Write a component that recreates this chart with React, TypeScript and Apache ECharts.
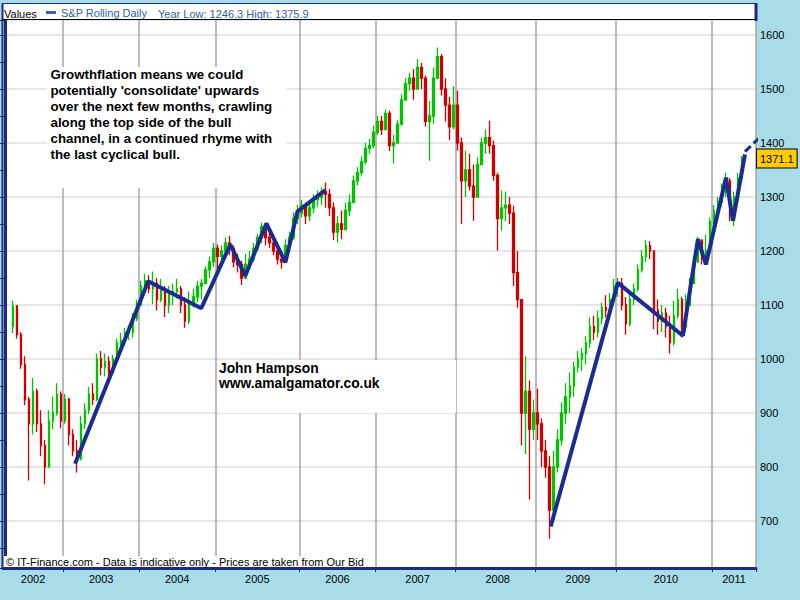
import React, { useEffect, useRef } from 'react';
import * as echarts from 'echarts';

type Bar = [number, number, number, number] | null; // open, close, low, high

const years = ['2002', '2003', '2004', '2005', '2006', '2007', '2008', '2009', '2010', '2011'];

const bars2002: Bar[] = [
  null, null,
  [1060, 1098, 1048, 1108], [1098, 1045, 1038, 1100], [1045, 990, 982, 1050], [990, 925, 915, 1005],
  [925, 880, 775, 930], [880, 940, 860, 965], [940, 880, 865, 945], [880, 840, 820, 905],
  [840, 800, 768, 850], [800, 885, 800, 905], [885, 900, 870, 930], [900, 935, 895, 955],
  [935, 885, 872, 940],
];
const bars2003: Bar[] = [
  [885, 925, 880, 935], [925, 860, 840, 928], [860, 830, 820, 870], [830, 815, 790, 850],
  [815, 880, 812, 895], [880, 905, 870, 918], [905, 935, 898, 948], [935, 925, 915, 955],
  [925, 1000, 922, 1010], [1000, 985, 970, 1015], [985, 995, 968, 1010], [995, 975, 965, 1005],
  [975, 1000, 972, 1008], [1000, 1030, 995, 1038], [1030, 1035, 1012, 1048], [1035, 1048, 1025, 1058],
  [1048, 1050, 1035, 1062], [1050, 1075, 1040, 1085], [1075, 1100, 1070, 1110],
];
const bars2004: Bar[] = [
  [1100, 1135, 1098, 1145], [1135, 1145, 1125, 1158], [1145, 1130, 1122, 1155], [1130, 1140, 1102, 1162],
  [1140, 1110, 1090, 1150], [1110, 1130, 1105, 1148], [1130, 1100, 1078, 1135], [1100, 1120, 1085, 1135],
  [1120, 1125, 1100, 1140], [1125, 1130, 1112, 1148], [1130, 1100, 1085, 1135], [1100, 1070, 1058, 1115],
  [1070, 1105, 1065, 1125], [1105, 1115, 1095, 1130], [1115, 1135, 1105, 1145], [1135, 1140, 1110, 1148],
  [1140, 1165, 1140, 1172], [1165, 1180, 1150, 1190], [1180, 1205, 1170, 1215],
];
const bars2005: Bar[] = [
  [1205, 1190, 1165, 1212], [1190, 1200, 1175, 1210], [1200, 1215, 1190, 1225], [1215, 1205, 1192, 1228],
  [1205, 1180, 1170, 1210], [1180, 1175, 1160, 1195], [1175, 1150, 1137, 1182], [1150, 1175, 1148, 1195],
  [1175, 1185, 1165, 1200], [1185, 1205, 1180, 1215], [1205, 1225, 1200, 1232], [1225, 1245, 1215, 1253],
  [1245, 1225, 1210, 1248], [1225, 1215, 1205, 1238], [1215, 1200, 1192, 1230], [1200, 1185, 1175, 1210],
  [1185, 1180, 1167, 1200], [1180, 1210, 1178, 1222], [1210, 1225, 1200, 1235], [1225, 1260, 1220, 1272],
  [1260, 1270, 1250, 1285],
];
const bars2006: Bar[] = [
  [1270, 1285, 1262, 1295], [1285, 1265, 1250, 1290], [1265, 1280, 1255, 1292], [1280, 1295, 1270, 1305],
  [1295, 1300, 1282, 1312], [1300, 1310, 1285, 1318], [1310, 1305, 1280, 1327], [1305, 1280, 1265, 1315],
  [1280, 1235, 1220, 1290], [1235, 1250, 1216, 1265], [1250, 1240, 1222, 1275], [1240, 1275, 1238, 1290],
  [1275, 1290, 1265, 1305], [1290, 1330, 1290, 1340], [1330, 1345, 1322, 1355], [1345, 1365, 1340, 1375],
  [1365, 1390, 1360, 1400], [1390, 1395, 1380, 1408], [1395, 1420, 1390, 1432],
];
const bars2007: Bar[] = [
  [1420, 1440, 1415, 1450], [1440, 1425, 1415, 1450], [1425, 1455, 1425, 1462], [1455, 1395, 1385, 1460],
  [1395, 1400, 1362, 1415], [1400, 1435, 1400, 1442], [1435, 1480, 1432, 1490], [1480, 1510, 1478, 1520],
  [1510, 1520, 1497, 1530], [1520, 1500, 1480, 1537], [1500, 1540, 1500, 1555], [1540, 1520, 1500, 1548],
  [1520, 1440, 1430, 1525], [1440, 1450, 1367, 1478], [1450, 1520, 1435, 1540], [1520, 1560, 1520, 1577],
  [1560, 1500, 1488, 1565], [1500, 1470, 1440, 1520], [1470, 1430, 1405, 1485], [1430, 1470, 1425, 1505],
];
const bars2008: Bar[] = [
  [1470, 1400, 1386, 1497], [1400, 1330, 1250, 1410], [1330, 1350, 1300, 1386], [1350, 1320, 1312, 1380],
  [1320, 1300, 1256, 1360], [1300, 1360, 1300, 1373], [1360, 1400, 1360, 1410], [1400, 1410, 1380, 1425],
  [1410, 1395, 1380, 1441], [1395, 1340, 1330, 1404], [1340, 1260, 1201, 1345], [1260, 1280, 1238, 1312],
  [1280, 1285, 1255, 1310], [1285, 1270, 1250, 1300], [1270, 1160, 1135, 1284], [1160, 1110, 1095, 1200],
  [1110, 900, 840, 1110], [900, 940, 824, 1005], [940, 870, 740, 960], [870, 900, 850, 925],
];
const bars2009: Bar[] = [
  [900, 880, 850, 945], [880, 830, 800, 890], [830, 800, 780, 850], [800, 720, 667, 820],
  [720, 800, 700, 830], [800, 850, 790, 870], [850, 900, 840, 920], [900, 930, 880, 955],
  [930, 950, 900, 975], [950, 985, 930, 995], [985, 1000, 975, 1015], [1000, 1010, 978, 1020],
  [1010, 1030, 990, 1042], [1030, 1060, 1020, 1077], [1060, 1050, 1035, 1080], [1050, 1075, 1040, 1090],
  [1075, 1095, 1064, 1104], [1095, 1090, 1077, 1118], [1090, 1110, 1090, 1122], [1110, 1135, 1108, 1148],
];
const bars2010: Bar[] = [
  [1135, 1140, 1115, 1150], [1140, 1100, 1090, 1150], [1100, 1065, 1045, 1115], [1065, 1110, 1060, 1125],
  [1110, 1130, 1100, 1140], [1130, 1165, 1125, 1175], [1165, 1190, 1160, 1202], [1190, 1210, 1180, 1220],
  [1210, 1200, 1185, 1218], [1200, 1090, 1055, 1200], [1090, 1070, 1045, 1110], [1070, 1085, 1050, 1100],
  [1085, 1060, 1040, 1095], [1060, 1030, 1010, 1080], [1030, 1080, 1025, 1108], [1080, 1110, 1075, 1130],
  [1110, 1060, 1040, 1115], [1060, 1100, 1050, 1120], [1100, 1140, 1098, 1150], [1140, 1180, 1140, 1190],
  [1180, 1220, 1178, 1226], [1220, 1190, 1175, 1222], [1190, 1200, 1178, 1230], [1200, 1255, 1195, 1262],
];
const bars2011: Bar[] = [
  [1255, 1275, 1250, 1285], [1275, 1290, 1262, 1300], [1290, 1310, 1282, 1325], [1310, 1330, 1300, 1345],
  [1330, 1280, 1255, 1335], [1280, 1300, 1246.3, 1310], [1300, 1335, 1295, 1345], [1335, 1371.1, 1330, 1375.9],
  null, null, null,
];

const barsByYear: Bar[][] = [bars2002, bars2003, bars2004, bars2005, bars2006, bars2007, bars2008, bars2009, bars2010, bars2011];

// [bar index, price]
const bullLeg1: [number, number][] = [
  [17.5, 806], [35.75, 1144], [49, 1094], [56.25, 1212], [60, 1154], [65.25, 1251], [70, 1179], [73, 1273], [80, 1313],
];
const bullLeg2: [number, number][] = [
  [136.25, 690], [153, 1141], [169.25, 1043], [173, 1222], [175, 1175], [180, 1336], [181.75, 1256], [184.75, 1379],
];
const projection: [number, number][] = [[184.75, 1384], [193, 1443]];

const lastPrice = 1371.1;
const yMin = 613;
const yMax = 1627.8;

const annotationLines = [
  'Growthflation means we could',
  "potentially 'consolidate' upwards",
  'over the next few months, crawling',
  'along the top side of the bull',
  'channel, in a continued rhyme with',
  'the last cyclical bull.',
];
const authorLines = ['John Hampson', 'www.amalgamator.co.uk'];
const footerText = '\u00a9 IT-Finance.com - Data is indicative only - Prices are taken from Our Bid';
const seriesName = 'S&P Rolling Daily';

const FONT = "'Liberation Sans', Arial, sans-serif";
const NAVY = '#1b2c80';
const LINE_BLUE = '#1b2c8f';
const GREEN = '#00c400';
const RED = '#d00000';

export default function App() {
  const ref = useRef<HTMLDivElement>(null);
  useEffect(() => {
    if (!ref.current) return;
    const chart = echarts.init(ref.current, null, { renderer: 'svg' });

    const categories: string[] = [];
    const yearStarts = new Set<number>();
    const labelIdx = new Set<number>();
    const candleData: number[][] = [];
    barsByYear.forEach((arr, k) => {
      const start = categories.length;
      if (start > 0) yearStarts.add(start);
      labelIdx.add(start + Math.round((arr.length - 1) / 2));
      arr.forEach((b) => {
        const idx = categories.length;
        categories.push(years[k]);
        if (b) candleData.push([idx, b[0], b[1], b[2], b[3]]);
      });
    });
    const valid2011 = bars2011.filter((b) => b) as [number, number, number, number][];
    const yearLow = Math.min(...valid2011.map((b) => b[2]));
    const yearHigh = Math.max(...valid2011.map((b) => b[3]));

    const option: any = {
      animation: false,
      backgroundColor: '#a9dce9',
      textStyle: { fontFamily: FONT },
      grid: { left: 3, right: 44, top: 20, bottom: 32, show: true, backgroundColor: '#ffffff', borderWidth: 0 },
      legend: {
        data: [{ name: seriesName, icon: 'rect', itemStyle: { color: '#3366aa', borderWidth: 0 } }],
        left: 46, top: 7, padding: 0, itemWidth: 10, itemHeight: 3, selectedMode: false, z: 30,
        textStyle: { color: '#2f5f9f', fontSize: 11, fontFamily: FONT },
      },
      xAxis: [
        {
          type: 'category', data: categories, boundaryGap: true, gridIndex: 0,
          axisLine: { lineStyle: { color: NAVY, width: 3 } },
          axisTick: { show: true, interval: (i: number) => yearStarts.has(i), length: 4, lineStyle: { color: NAVY, width: 1 } },
          axisLabel: { interval: (i: number) => labelIdx.has(i), color: '#000', fontSize: 11, margin: 5, fontFamily: FONT },
          splitLine: { show: true, interval: (i: number) => yearStarts.has(i), lineStyle: { color: '#a6a6a6', width: 1.5 } },
        },
        { type: 'value', min: -0.5, max: categories.length - 0.5, show: false, gridIndex: 0 },
      ],
      yAxis: {
        type: 'value', position: 'right', min: yMin, max: yMax, splitNumber: 10,
        axisLine: { show: true, lineStyle: { color: NAVY, width: 3 } },
        axisTick: { show: true, inside: true, length: 5, lineStyle: { color: NAVY } },
        minorTick: { show: true, splitNumber: 2, length: 5, lineStyle: { color: NAVY } },
        axisLabel: {
          color: '#000', fontSize: 11, margin: 4, showMinLabel: false, showMaxLabel: false, fontFamily: FONT,
          formatter: (v: number) => String(v),
        },
        splitLine: { show: true, lineStyle: { color: '#dedede', width: 1.5 } },
      },
      series: [
        {
          name: seriesName, type: 'candlestick', xAxisIndex: 0, yAxisIndex: 0, clip: false,
          data: candleData, encode: { x: 0, y: [1, 2, 3, 4] },
          barWidth: 2,
          itemStyle: { color: GREEN, color0: RED, borderColor: GREEN, borderColor0: RED, borderWidth: 1.3 },
        },
        {
          type: 'line', xAxisIndex: 1, yAxisIndex: 0, data: bullLeg1, symbol: 'none', silent: true, z: 5,
          lineStyle: { color: LINE_BLUE, width: 4 },
        },
        {
          type: 'line', xAxisIndex: 1, yAxisIndex: 0, data: bullLeg2, symbol: 'none', silent: true, z: 5,
          lineStyle: { color: LINE_BLUE, width: 4 },
        },
        {
          type: 'line', xAxisIndex: 1, yAxisIndex: 0, data: projection, symbol: 'none', silent: true, z: 5, clip: false,
          lineStyle: { color: LINE_BLUE, width: 3, type: [8, 4] },
          markLine: {
            silent: true, symbol: ['none', 'none'],
            data: [{ yAxis: lastPrice }],
            lineStyle: { color: 'rgba(0,0,0,0)', width: 1, type: 'solid' },
            label: {
              show: true, position: 'end', formatter: (p: any) => String(p.value), distance: 1,
              backgroundColor: '#ffcc00', borderColor: '#000', borderWidth: 1, padding: [4, 3, 3, 3],
              color: '#000', fontSize: 11, fontFamily: FONT,
            },
          },
        },
      ],
      graphic: [
        { type: 'rect', z: 10, silent: true, shape: { x: 3, y: 3, width: 753, height: 17 }, style: { fill: '#fff' } },
        { type: 'line', z: 11, silent: true, shape: { x1: 3, y1: 3.5, x2: 757, y2: 3.5 }, style: { stroke: NAVY, lineWidth: 1 } },
        { type: 'line', z: 11, silent: true, shape: { x1: 2.5, y1: 3, x2: 2.5, y2: 569 }, style: { stroke: NAVY, lineWidth: 2 } },
        { type: 'line', z: 11, silent: true, shape: { x1: 756, y1: 3, x2: 756, y2: 21 }, style: { stroke: NAVY, lineWidth: 3 } },
        { type: 'line', z: 11, silent: true, shape: { x1: 3, y1: 19.5, x2: 755, y2: 19.5 }, style: { stroke: '#000', lineWidth: 1 } },
        { type: 'text', z: 12, silent: true, x: 4, y: 13.5, style: { text: 'Values', fill: '#000', font: `11px ${FONT}`, verticalAlign: 'middle' } },
        {
          type: 'text', z: 12, silent: true, x: 158, y: 13.5,
          style: { text: `Year Low: ${yearLow.toFixed(1)} High: ${yearHigh.toFixed(1)}`, fill: '#2f5f9f', font: `11px ${FONT}`, verticalAlign: 'middle' },
        },
        { type: 'rect', z: 10, silent: true, shape: { x: 47, y: 67, width: 239, height: 121 }, style: { fill: '#fff' } },
        {
          type: 'text', z: 12, silent: true, x: 50.5, y: 66.5,
          style: { text: annotationLines.join('\n'), fill: '#000', font: `bold 13.3px ${FONT}`, lineHeight: 16, verticalAlign: 'top' },
        },
        { type: 'rect', z: 10, silent: true, shape: { x: 218, y: 360, width: 238, height: 53 }, style: { fill: '#fff' } },
        {
          type: 'text', z: 12, silent: true, x: 219, y: 360.5,
          style: { text: authorLines.join('\n'), fill: '#000', font: `bold 13.8px ${FONT}`, lineHeight: 15, verticalAlign: 'top' },
        },
        { type: 'rect', z: 10, silent: true, shape: { x: 4, y: 556, width: 315, height: 11 }, style: { fill: '#fff' } },
        { type: 'text', z: 12, silent: true, x: 6, y: 561.5, style: { text: footerText, fill: '#000', font: `11px ${FONT}`, verticalAlign: 'middle' } },
      ],
    };
    chart.setOption(option);
    return () => chart.dispose();
  }, []);
  return <div ref={ref} style={{ position: 'fixed', left: 0, top: 0, width: 800, height: 600 }} />;
}
